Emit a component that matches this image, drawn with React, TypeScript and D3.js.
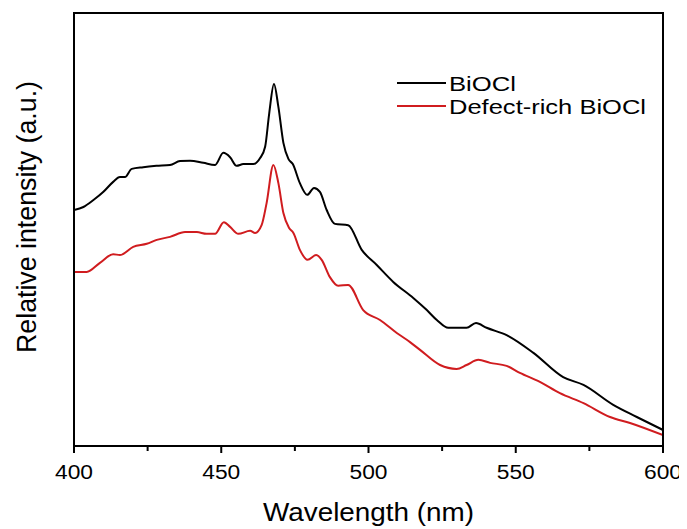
import React from "react";
import * as d3 from "d3";

// wavelength (nm) and relative intensity (a.u.)
const biocl: [number, number][] = [
  [400, 54.5], [403.2, 55.2], [406.6, 56.8], [410, 58.7], [413.3, 61.0], [415.6, 62.1],
  [417.3, 62.1], [419.6, 64.0], [423.5, 64.4], [428, 64.7], [432.6, 64.9], [436, 65.8],
  [439.4, 65.9], [443.9, 65.4], [447.9, 64.9], [450.7, 67.7], [453, 66.7], [455.2, 64.7],
  [457.5, 65.1], [460.9, 65.1], [463.2, 66.5], [464.9, 69.1], [466.3, 76.9], [467.9, 83.6],
  [469.4, 78.3], [471.1, 70.0], [472.8, 66.3], [474.3, 65.1], [476.7, 60.7], [479.2, 58.0],
  [481.5, 59.6], [483.5, 58.7], [485.8, 54.5], [488.6, 51.3], [493.1, 51.0], [497.7, 45.3],
  [502.8, 41.8], [508.4, 37.9], [515.2, 34.2], [519.8, 31.4], [523.2, 29.1], [527.1, 27.3],
  [533.3, 27.3], [536.5, 28.4], [540.1, 27.3], [546.9, 25.6], [556, 21.5], [566.1, 15.9],
  [573, 14.1], [583.1, 9.5], [591.1, 6.7], [600, 3.7],
];

const defectRich: [number, number][] = [
  [400, 40.2], [404.3, 40.2], [408.8, 42.3], [413.3, 44.3], [415.6, 44.1], [420.1, 46.0],
  [424.7, 46.7], [428.1, 47.6], [432.6, 48.3], [437.7, 49.4], [441.7, 49.4], [445, 49.0],
  [447.9, 49.0], [450.9, 51.7], [453, 50.6], [455.8, 49.0], [459.8, 49.7], [461.5, 49.2],
  [463.7, 51.0], [465.4, 56.1], [467.7, 64.9], [469.4, 60.7], [471.1, 53.8], [473.1, 50.3],
  [474.5, 49.2], [476.7, 45.3], [479.3, 43.0], [482.2, 44.1], [484.1, 43.0], [486.9, 39.0],
  [489.7, 37.0], [493.1, 37.2], [498.2, 31.4], [503.9, 29.1], [509.6, 26.1], [514.1, 24.0],
  [517.5, 22.2], [524.3, 18.7], [529.9, 17.8], [533.3, 18.7], [537.3, 19.9], [541.3, 19.2],
  [546.9, 18.5], [551.4, 16.9], [558.2, 14.8], [565, 12.2], [573, 9.9], [582, 6.7],
  [588.8, 5.3], [600, 2.5],
];

const majorTicks = [400, 450, 500, 550, 600];
const minorTicks = [425, 475, 525, 575];

const series = [
  { name: "BiOCl", color: "#000000", values: biocl },
  { name: "Defect-rich BiOCl", color: "#d01c1f", values: defectRich },
];

const W = 687;
const H = 529;
const left = 66;
const right = 655;
const top = 5;
const bottom = 438;

export default function App() {
  const x = d3.scaleLinear().domain([400, 600]).range([left, right]);
  const y = d3.scaleLinear().domain([0, 100]).range([bottom, top]);

  const line = d3
    .line<[number, number]>()
    .x((d) => x(d[0]))
    .y((d) => y(d[1]))
    .curve(d3.curveMonotoneX);

  const font = "'Liberation Sans', Arial, sans-serif";

  return (
    <svg width={W - 8} height={H - 8} style={{ display: "block", overflow: "visible" }} fontFamily={font}>
      <defs>
        <clipPath id="plot">
          <rect x={left} y={top} width={right - left} height={bottom - top} />
        </clipPath>
      </defs>
      <g clipPath="url(#plot)">
        {series.map((s) => (
          <path key={s.name} d={line(s.values) || ""} fill="none" stroke={s.color} strokeWidth={2} />
        ))}
      </g>
      <rect x={left} y={top} width={right - left} height={bottom - top} fill="none" stroke="#000" strokeWidth={2} />

      {majorTicks.map((t) => (
        <g key={t} transform={`translate(${x(t)},${bottom})`}>
          <line y1={0} y2={7} stroke="#000" strokeWidth={2} />
          <text y={33} textAnchor="middle" fontSize={20} textLength={38} lengthAdjust="spacingAndGlyphs">
            {t}
          </text>
        </g>
      ))}
      {minorTicks.map((t) => (
        <line key={t} x1={x(t)} x2={x(t)} y1={bottom} y2={bottom + 5} stroke="#000" strokeWidth={2} />
      ))}

      <text x={(left + right) / 2} y={513} textAnchor="middle" fontSize={25} textLength={211} lengthAdjust="spacingAndGlyphs">
        Wavelength (nm)
      </text>
      <text
        transform={`translate(28,${209}) rotate(-90)`}
        textAnchor="middle"
        fontSize={27}
        textLength={272}
        lengthAdjust="spacingAndGlyphs"
      >
        Relative intensity (a.u.)
      </text>

      {series.map((s, i) => (
        <g key={s.name} transform={`translate(389,${75 + i * 23})`}>
          <line x1={0} x2={49} y1={0} y2={0} stroke={s.color} strokeWidth={2} />
          <text x={52} y={8} fontSize={21} textLength={i === 0 ? 67 : 197} lengthAdjust="spacingAndGlyphs">
            {s.name}
          </text>
        </g>
      ))}
    </svg>
  );
}
